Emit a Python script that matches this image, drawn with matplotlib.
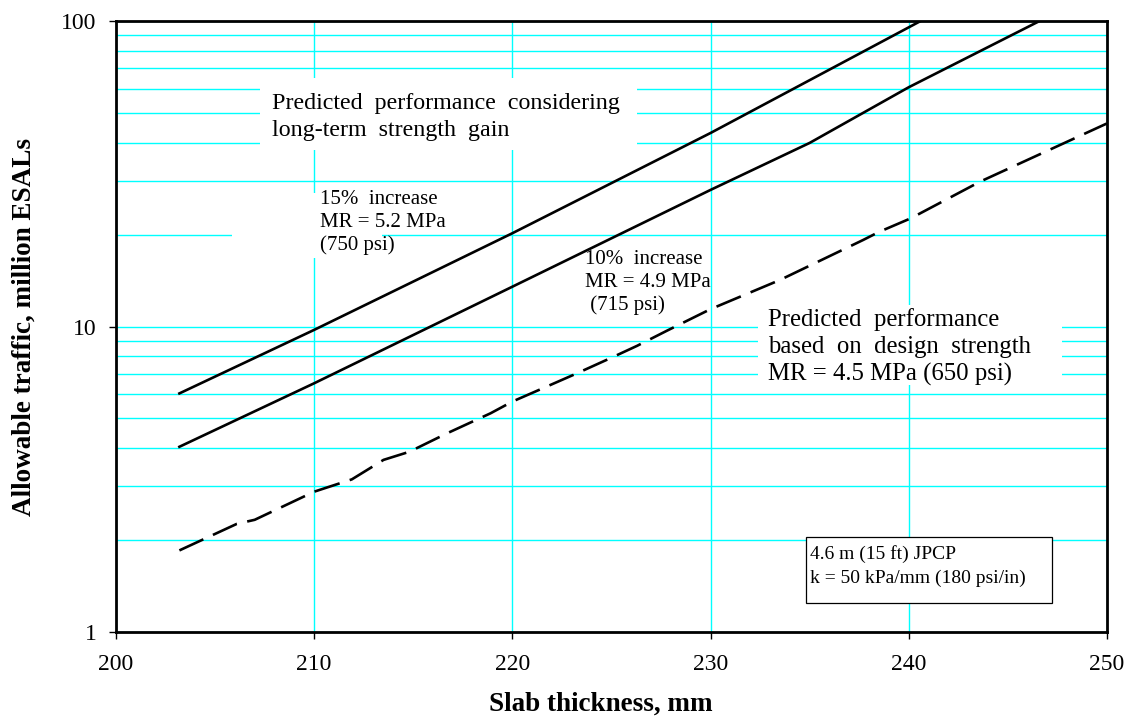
import matplotlib
matplotlib.use("Agg")
import matplotlib.pyplot as plt
from matplotlib.patches import Rectangle
from matplotlib.ticker import FixedLocator, NullFormatter

plt.rcParams["font.family"] = ["Liberation Serif", "DejaVu Serif"]

# 15% increase, MR = 5.2 MPa
thick_15 = [203.2, 210, 220, 230, 240.6]
traffic_15 = [6.04, 9.75, 20.2, 43, 100]

# 10% increase, MR = 4.9 MPa
thick_10 = [203.2, 210, 220, 230, 235, 240, 246.6]
traffic_10 = [4.04, 6.52, 13.5, 28, 39.9, 60.7, 100]

# design strength, MR = 4.5 MPa
thick_design = [203.2, 206.1, 207.0, 210.0, 211.9, 213.5, 214.8, 216.7, 218.9,
                220.0, 222.3, 223.2, 225.1, 226.3, 227.8, 230.0, 233.5, 237.7,
                238.5, 240.1, 243.6, 250.0]
traffic_design = [1.85, 2.26, 2.33, 2.88, 3.16, 3.66, 3.89, 4.47, 5.2,
                  5.68, 6.6, 7.0, 7.96, 8.65, 9.69, 11.4, 14.2, 19.2,
                  20.4, 22.6, 29.8, 46.2]

x_ticks = [200, 210, 220, 230, 240, 250]
y_ticks = [1, 10, 100]

fig = plt.figure(figsize=(11.27, 7.17), dpi=100)
ax = fig.add_axes([0.1029, 0.1185, 0.8793, 0.8522])

ax.set_yscale("log")
ax.set_xlim(200, 250)
ax.set_ylim(1, 100)

ax.plot(thick_15, traffic_15, color="black", lw=1.9, zorder=3)
ax.plot(thick_10, traffic_10, color="black", lw=1.9, zorder=3)
ax.plot(thick_design, traffic_design, color="black", lw=1.9,
        dashes=(10, 4), zorder=3)

# grid
ax.set_xticks(x_ticks)
ax.set_xticklabels([str(v) for v in x_ticks])
ax.set_yticks(y_ticks)
ax.set_yticklabels([str(v) for v in y_ticks])
ax.yaxis.set_minor_locator(FixedLocator(
    [m * d for d in (1, 10) for m in range(2, 10)]))
ax.yaxis.set_minor_formatter(NullFormatter())
ax.set_axisbelow(True)
ax.grid(which="major", color="#00ffff", lw=1.0)
ax.grid(which="minor", axis="y", color="#00ffff", lw=1.0)
ax.tick_params(which="minor", length=0)
ax.tick_params(which="major", direction="out", length=5, width=1,
               labelsize=17)
ax.tick_params(axis="x", pad=11)
ax.tick_params(axis="y", pad=9)

for s in ax.spines.values():
    s.set_linewidth(2.0)
    s.set_color("black")
    s.set_zorder(4)

# white boxes behind the annotations (they cut the grid)
white_boxes = [
    (0.1453, 0.7889, 0.3804, 0.1178),
    (0.1171, 0.6121, 0.1513, 0.1064),
    (0.6478, 0.4043, 0.3068, 0.1309),
]
for bx, by, bw, bh in white_boxes:
    ax.add_patch(Rectangle((bx, by), bw, bh, transform=ax.transAxes,
                           facecolor="white", edgecolor="none", zorder=1))
ax.add_patch(Rectangle((0.6963, 0.0475), 0.2482, 0.108,
                       transform=ax.transAxes, facecolor="white",
                       edgecolor="black", lw=0.9, zorder=3))

ax.text(0.1574, 0.882, "Predicted  performance  considering\nlong-term  strength  gain",
        transform=ax.transAxes, fontsize=17.3, va="top", ha="left",
        linespacing=1.36, zorder=5)
ax.text(0.2059, 0.7227, "15%  increase\nMR = 5.2 MPa\n(750 psi)",
        transform=ax.transAxes, fontsize=15, va="top", ha="left",
        linespacing=1.22, zorder=5)
ax.text(0.4733, 0.6245, "10%  increase\nMR = 4.9 MPa\n (715 psi)",
        transform=ax.transAxes, fontsize=15, va="top", ha="left",
        linespacing=1.23, zorder=5)
ax.text(0.6579, 0.5303, "Predicted  performance\nbased  on  design  strength\nMR = 4.5 MPa (650 psi)",
        transform=ax.transAxes, fontsize=17.8, va="top", ha="left",
        linespacing=1.3, zorder=5)
ax.text(0.7003, 0.1424, "4.6 m (15 ft) JPCP\nk = 50 kPa/mm (180 psi/in)",
        transform=ax.transAxes, fontsize=14, va="top", ha="left",
        linespacing=1.5, zorder=5)

ax.set_xlabel("Slab thickness, mm", fontsize=19.5, fontweight="bold")
ax.xaxis.set_label_coords(0.489, -0.098)
ax.set_ylabel("Allowable traffic, million ESALs", fontsize=19.5,
              fontweight="bold")
ax.yaxis.set_label_coords(-0.08, 0.5)

fig.savefig("out.png", dpi=100)
